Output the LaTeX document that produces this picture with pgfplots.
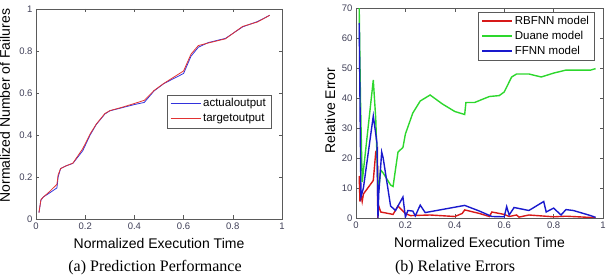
\documentclass[border=0pt]{standalone}
\usepackage{fontspec}
\setmainfont{Liberation Serif}
\setsansfont{Liberation Sans}
\usepackage{pgfplots}
\pgfplotsset{compat=1.18}

\definecolor{tickgray}{RGB}{64,64,88}
\definecolor{framegray}{RGB}{90,90,90}
\definecolor{mblue}{RGB}{50,50,220}
\definecolor{mred}{RGB}{225,50,50}
\definecolor{rbred}{RGB}{215,25,25}
\definecolor{dgreen}{RGB}{45,215,45}
\definecolor{ffblue}{RGB}{25,25,205}

\pgfplotsset{
  matstyle/.style={
    scale only axis,
    anchor=south west,
    xmin=0, xmax=1,
    xtick={0,0.2,0.4,0.6,0.8,1},
    xticklabels={0,0.2,0.4,0.6,0.8,1},
    tick align=inside,
    major tick length=3.5bp,
    axis line style={framegray, line width=0.6pt},
    every tick/.style={framegray, line width=0.6pt},
    tick label style={font=\fontsize{9.5bp}{11bp}\sffamily, text=tickgray},
    /pgf/number format/assume math mode=true,
    label style={font=\fontsize{14bp}{16bp}\sffamily},
    xlabel style={at={(axis description cs:0.5,-0.115)}, anchor=center},
    legend cell align=left,
    legend style={font=\fontsize{11.5bp}{13bp}\sffamily, draw=framegray,
      inner xsep=3bp, inner ysep=1.5bp, row sep=0pt,
      nodes={text height=9bp, text depth=3bp, inner ysep=1.5bp}},
    legend image code/.code={%
      \draw[mark repeat=2,mark phase=2,##1]
        plot coordinates {(0bp,0bp) (15bp,0bp) (30bp,0bp)};},
  }
}

\begin{document}
\begin{tikzpicture}
\useasboundingbox (0,0) rectangle (609bp,278bp);

% (a) network output against target
\begin{axis}[matstyle,
  at={(36bp,59bp)}, width=246bp, height=210bp,
  ymin=0, ymax=1,
  ytick={0,0.2,0.4,0.6,0.8,1},
  yticklabels={0,0.2,0.4,0.6,0.8,1},
  xlabel={Normalized Execution Time},
  ylabel={Normalized Number of Failures},
  ylabel style={at={(axis description cs:-0.127,0.54)}, anchor=center},
  legend style={at={(0.533,0.5925)}, anchor=north west},
]
\addplot[mblue, line width=0.8pt] coordinates {
(0.012,0.03) (0.02,0.09) (0.03,0.105) (0.05,0.12) (0.085,0.148) (0.09,0.2)
(0.1,0.24) (0.12,0.252) (0.15,0.265) (0.19,0.325) (0.22,0.4) (0.245,0.45)
(0.28,0.5) (0.3,0.515) (0.35,0.53) (0.4,0.545) (0.44,0.555) (0.48,0.61)
(0.52,0.645) (0.6,0.693) (0.63,0.775) (0.66,0.818) (0.7,0.84) (0.77,0.86)
(0.84,0.915) (0.9,0.94) (0.95,0.97)};
\addlegendentry{actualoutput}
\addplot[mred, line width=0.8pt] coordinates {
(0.012,0.03) (0.02,0.092) (0.03,0.105) (0.05,0.125) (0.085,0.165) (0.09,0.21)
(0.1,0.24) (0.12,0.252) (0.15,0.266) (0.19,0.335) (0.22,0.405) (0.245,0.452)
(0.28,0.502) (0.3,0.516) (0.35,0.532) (0.4,0.55) (0.44,0.565) (0.48,0.612)
(0.52,0.646) (0.6,0.705) (0.63,0.785) (0.66,0.826) (0.7,0.838) (0.77,0.858)
(0.84,0.917) (0.9,0.938) (0.95,0.97)};
\addlegendentry{targetoutput}
\end{axis}

% (b) relative error of the three models
\begin{axis}[matstyle,
  at={(356bp,60bp)}, width=247bp, height=210bp,
  ymin=0, ymax=70,
  ytick={0,10,20,30,40,50,60,70},
  xlabel={Normalized Execution Time},
  ylabel={Relative Error},
  ylabel style={at={(axis description cs:-0.105,0.51)}, anchor=center},
  legend style={at={(0.495,0.981)}, anchor=north west},
]
\addplot[rbred, line width=1.4pt] coordinates {
(0.013,14) (0.016,5.5) (0.02,8) (0.025,5.5) (0.03,8) (0.07,12.5) (0.08,22)
(0.087,23) (0.088,0) (0.09,4.5) (0.1,2) (0.15,1.2) (0.17,4) (0.2,1.5)
(0.22,0.8) (0.3,1) (0.4,0.5) (0.43,1.5) (0.44,2.7) (0.5,1.5) (0.54,0.5)
(0.55,2) (0.6,1.2) (0.62,0.5) (0.65,1) (0.66,0.3) (0.7,1) (0.8,0.4)
(0.85,0.6) (0.97,0.1)};
\addlegendentry{RBFNN model}
\addplot[dgreen, line width=1.4pt] coordinates {
(0.013,70) (0.018,40) (0.025,12) (0.07,46) (0.08,33) (0.09,8) (0.1,16)
(0.11,15) (0.14,11) (0.15,10.5) (0.17,22) (0.19,23.5) (0.2,28) (0.23,35)
(0.26,39) (0.3,41) (0.35,38) (0.4,35.5) (0.44,34.5) (0.445,38.5) (0.48,38.5)
(0.54,40.5) (0.58,40.8) (0.6,42) (0.63,47) (0.65,48) (0.7,48) (0.75,47)
(0.8,48.3) (0.85,49.3) (0.95,49.3) (0.97,49.8)};
\addlegendentry{Duane model}
\addplot[ffblue, line width=1.4pt] coordinates {
(0.013,65) (0.02,7) (0.03,10) (0.07,34) (0.085,25) (0.089,0) (0.092,8)
(0.104,22) (0.11,20) (0.14,4) (0.16,2.5) (0.19,7) (0.2,0.3) (0.21,2.5)
(0.23,2.3) (0.24,0.7) (0.26,4.3) (0.28,1.8) (0.44,4.2) (0.5,2.3) (0.55,0.5)
(0.6,0.4) (0.61,3.8) (0.62,1.0) (0.64,3.5) (0.7,2.5) (0.76,5.5) (0.77,2)
(0.8,3.3) (0.83,1) (0.85,2.8) (0.88,2.5) (0.95,0.8) (0.97,0.2)};
\addlegendentry{FFNN model}
\end{axis}

\node[font=\fontsize{16bp}{18bp}\selectfont] at (155bp,10bp) {(a) Prediction Performance};
\node[font=\fontsize{16bp}{18bp}\selectfont] at (455bp,10bp) {(b) Relative Errors};
\end{tikzpicture}
\end{document}
